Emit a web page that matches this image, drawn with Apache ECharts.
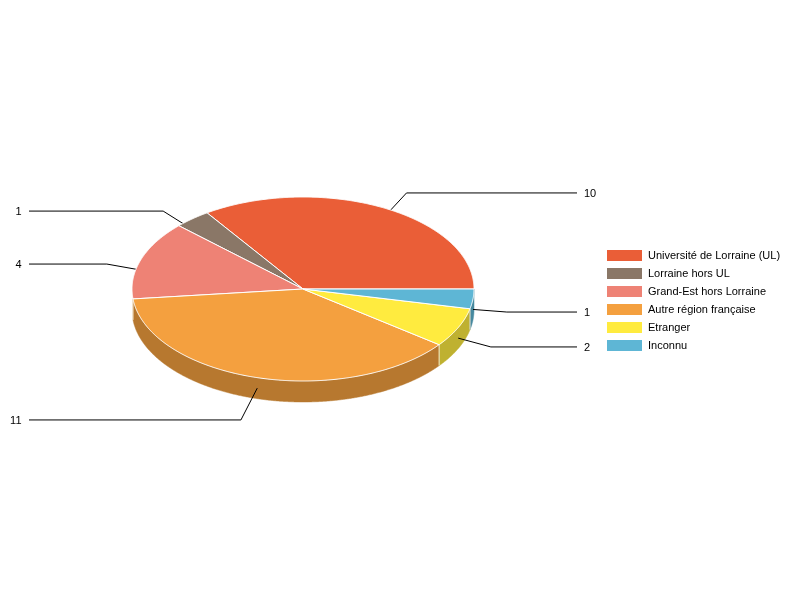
<!DOCTYPE html>
<html>
<head>
<meta charset="utf-8">
<style>html,body{margin:0;padding:0;background:#fff}#c{width:800px;height:600px}</style>
<script src="https://cdn.jsdelivr.net/npm/echarts@6/dist/echarts.min.js"></script>
</head>
<body>
<div id="c"></div>
<script>
const categories = ['Université de Lorraine (UL)','Lorraine hors UL','Grand-Est hors Lorraine','Autre région française','Etranger','Inconnu'];
const values = [10,1,4,11,2,1];
const colors = ['#EA5E37','#8A7767','#EE8275','#F4A03F','#FFEB3F','#5EB6D5'];
const wallColors = ['#B1472A','#68594E','#B36158','#B7782F','#BFB130','#47899F'];

const FONT = 'Liberation Sans';
const cx = 303, cy = 289, rx = 171, ry = 92, depth = 21;
const leaderRx = [221,216,207,232,207,205];
const leaderRy = [120.6,116,111,125,113,116];
const leftEnd = 29, rightEnd = 577;
const minWallSweep = 8;

const total = values.reduce((a,b)=>a+b,0);
const starts = [];
values.reduce((acc,v,i)=>{starts[i]=acc;return acc+v/total*360;},0);
const rad = d => d*Math.PI/180;
const pt = (deg,dy=0,a=rx,b=ry) => [cx+a*Math.cos(rad(deg)), cy-b*Math.sin(rad(deg))+dy];
function arc(a0,a1,dy=0){
  const out=[], n=Math.max(4,Math.ceil(Math.abs(a1-a0)*3));
  for(let k=0;k<=n;k++) out.push(pt(a0+(a1-a0)*k/n,dy));
  return out;
}
function sliceRange(i){return [starts[i], starts[i]+values[i]/total*360];}

function renderTop(i){
  return function(){
    const [a0,a1]=sliceRange(i);
    return {type:'polygon',shape:{points:[[cx,cy]].concat(arc(a0,a1))},
      style:{fill:colors[i],stroke:'#fff',lineWidth:1,lineJoin:'round'}};
  };
}
function renderWalls(params){
  const i=params.dataIndex, [a0,a1]=sliceRange(i);
  const s=Math.max(a0,180), e=Math.min(a1,360);
  if(e-s<minWallSweep) return {type:'group',children:[]};
  const kids=[{type:'polygon',shape:{points:arc(s,e).concat(arc(e,s,depth))},
    style:{fill:wallColors[i],stroke:wallColors[i],lineWidth:0.5}}];
  if(s>180){
    const p=pt(s);
    kids.push({type:'line',shape:{x1:p[0],y1:p[1],x2:p[0],y2:p[1]+depth},style:{stroke:'#F3E6CF',lineWidth:1}});
  }
  return {type:'group',children:kids};
}
function renderLeader(params){
  const i=params.dataIndex, [a0,a1]=sliceRange(i), mid=(a0+a1)/2;
  const left=Math.cos(rad(mid))<0;
  const a=pt(mid,depth/2);
  const el=pt(mid,depth/2,leaderRx[i],leaderRy[i]);
  const endX=left?leftEnd:rightEnd;
  return {type:'group',children:[
    {type:'polyline',shape:{points:[a,el,[endX,el[1]]]},style:{fill:'none',stroke:'#000',lineWidth:1}}
  ]};
}
function renderLabel(params,api){
  const i=params.dataIndex, [a0,a1]=sliceRange(i), mid=(a0+a1)/2;
  const left=Math.cos(rad(mid))<0;
  const el=pt(mid,depth/2,leaderRx[i],leaderRy[i]);
  return {type:'text',style:{text:String(api.value(0)),x:left?leftEnd-7.5:rightEnd+7,y:el[1]+1,
    align:left?'right':'left',verticalAlign:'middle',fill:'#000',font:'11px "'+FONT+'"'}};
}

const idx = values.map((v,i)=>[v]);
const series = [
  {type:'custom',name:'_walls',coordinateSystem:'none',silent:true,z:1,animation:false,data:idx,renderItem:renderWalls},
  {type:'custom',name:'_leaders',coordinateSystem:'none',silent:true,z:2,animation:false,data:idx,renderItem:renderLeader},
  {type:'custom',name:'_labels',coordinateSystem:'none',silent:true,z:5,animation:false,data:idx,renderItem:renderLabel}
];
categories.forEach((name,i)=>{
  series.push({type:'custom',name,coordinateSystem:'none',silent:true,z:3,animation:false,
    itemStyle:{color:colors[i]},data:[[values[i]]],renderItem:renderTop(i)});
});

const chart = echarts.init(document.getElementById('c'),null,{renderer:'canvas',width:800,height:600});
chart.setOption({
  backgroundColor:'#fff',
  animation:false,
  legend:{
    data:categories,orient:'vertical',left:607,top:250,icon:'rect',
    itemWidth:35,itemHeight:11,itemGap:7,selectedMode:false,padding:0,
    textStyle:{fontFamily:FONT,fontSize:11,color:'#000',padding:[0,0,0,1]},
    itemStyle:{borderWidth:0}
  },
  series
});
</script>
</body>
</html>
